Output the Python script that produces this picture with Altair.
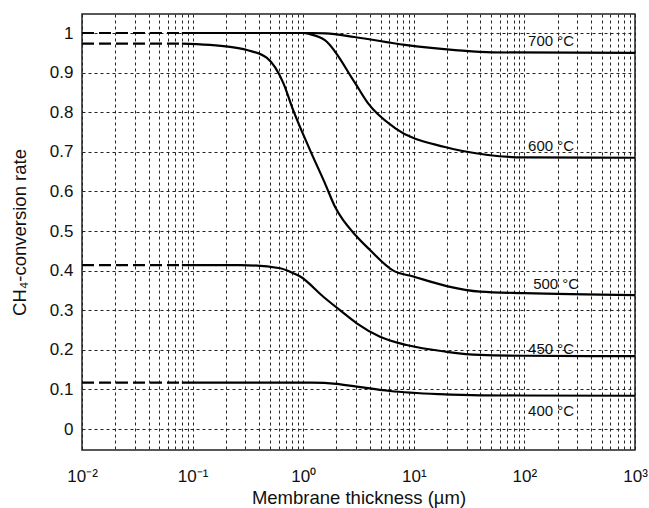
import altair as alt
import pandas as pd

# Membrane thickness (µm) and CH4 conversion for each temperature
x_700 = [0.08, 1.2, 1.6, 2.9, 8.3, 23.6, 51, 1000]
y_700 = [1.0, 1.0, 0.999, 0.99, 0.97, 0.957, 0.951, 0.95]

x_600 = [0.08, 1.0, 1.15, 1.57, 2.94, 3.85, 6.76, 19.1, 46.9, 100, 1000]
y_600 = [1.0, 1.0, 0.997, 0.982, 0.874, 0.823, 0.76, 0.712, 0.692, 0.686, 0.685]

x_500 = [0.08, 0.218, 0.31, 0.47, 0.66, 0.81, 1.15, 1.57, 1.94, 3.05, 4.02, 6.53, 9.9, 19.8, 39.7, 101, 1000]
y_500 = [0.973, 0.965, 0.957, 0.937, 0.874, 0.806, 0.705, 0.621, 0.561, 0.486, 0.452, 0.40, 0.385, 0.361, 0.347, 0.343, 0.338]

x_450 = [0.08, 0.27, 0.62, 0.76, 0.94, 1.52, 2.15, 3.05, 4.95, 8.6, 19.8, 39.7, 100, 1000]
y_450 = [0.414, 0.414, 0.406, 0.397, 0.385, 0.334, 0.30, 0.267, 0.233, 0.212, 0.195, 0.187, 0.185, 0.184]

x_400 = [0.08, 1.2, 2.0, 3.05, 6.1, 17, 40, 1000]
y_400 = [0.117, 0.117, 0.114, 0.107, 0.096, 0.088, 0.085, 0.084]

# Dashed extrapolation towards thin membranes
ext_x = [0.01, 0.08]
temps = ["700 °C", "600 °C", "500 °C", "450 °C", "400 °C"]

# Curve labels
label_text = ["700 °C", "600 °C", "500 °C", "450 °C", "400 °C"]
label_x = [108, 108, 120, 108, 108]
label_y = [0.98, 0.715, 0.366, 0.202, 0.045]

series = {
    "700 °C": (x_700, y_700),
    "600 °C": (x_600, y_600),
    "500 °C": (x_500, y_500),
    "450 °C": (x_450, y_450),
    "400 °C": (x_400, y_400),
}

solid_rows = []
dash_rows = []
for t in temps:
    xs, ys = series[t]
    for i, (a, b) in enumerate(zip(xs, ys)):
        solid_rows.append({"temp": t, "thickness": a, "rate": b, "order": i})
    for i, a in enumerate(ext_x):
        dash_rows.append({"temp": t, "thickness": a, "rate": ys[0], "order": i})

solid = pd.DataFrame(solid_rows)
dashed = pd.DataFrame(dash_rows)
labels = pd.DataFrame({"text": label_text, "thickness": label_x, "rate": label_y})

# log grid positions: every integer multiple inside each decade
grid_x = []
for e in range(-2, 3):
    for k in range(1, 10):
        grid_x.append(round(k * 10 ** e, 6))
grid_x.append(1000)
grid_y = [round(0.1 * i, 1) for i in range(11)]

FONT = "Liberation Sans"

x_scale = alt.Scale(type="log", domain=[0.01, 1000], nice=False)
y_scale = alt.Scale(domain=[-0.053, 1.048], nice=False, zero=False)

sup_expr = (
    "datum.value == 0.01 ? '10⁻²' : datum.value == 0.1 ? '10⁻¹' : "
    "datum.value == 1 ? '10⁰' : datum.value == 10 ? '10¹' : "
    "datum.value == 100 ? '10²' : datum.value == 1000 ? '10³' : ''"
)

x_axis = alt.Axis(
    values=grid_x,
    labelExpr=sup_expr,
    title="Membrane thickness (µm)",
    grid=True,
    gridDash=[3, 3],
    gridColor="#222222",
    gridOpacity=1,
    gridWidth=1,
    ticks=False,
    domain=False,
    labelPadding=18,
    labelFontSize=17,
    labelFont=FONT,
    labelColor="#111111",
    labelFlush=False,
    labelOverlap=False,
    titleFont=FONT,
    titleFontSize=18.5,
    titleFontWeight="normal",
    titleColor="#111111",
    titlePadding=4,
)

y_axis = alt.Axis(
    values=grid_y,
    labelExpr="datum.value == 1 ? '1' : datum.value == 0 ? '0' : format(datum.value, '.1f')",
    title="CH₄-conversion rate",
    grid=True,
    gridDash=[3, 3],
    gridColor="#222222",
    gridOpacity=1,
    gridWidth=1,
    ticks=False,
    domain=False,
    labelPadding=9,
    labelFontSize=17,
    labelFont=FONT,
    labelColor="#111111",
    labelFlush=False,
    titleFont=FONT,
    titleFontSize=18.5,
    titleFontWeight="normal",
    titleColor="#111111",
    titlePadding=20,
)

x_enc = alt.X("thickness:Q", scale=x_scale, axis=x_axis)
y_enc = alt.Y("rate:Q", scale=y_scale, axis=y_axis)

solid_lines = alt.Chart(solid).mark_line(
    color="black", strokeWidth=2.2, clip=True, interpolate="monotone"
).encode(x=x_enc, y=y_enc, detail="temp:N", order="order:Q")

dashed_lines = alt.Chart(dashed).mark_line(
    color="black", strokeWidth=2.2, strokeDash=[12, 5], clip=True
).encode(
    x=alt.X("thickness:Q", scale=x_scale),
    y=alt.Y("rate:Q", scale=y_scale),
    detail="temp:N",
    order="order:Q",
)

text = alt.Chart(labels).mark_text(
    align="left", baseline="middle", font=FONT, fontSize=15, color="#111111"
).encode(
    x=alt.X("thickness:Q", scale=x_scale),
    y=alt.Y("rate:Q", scale=y_scale),
    text="text:N",
)

chart = (
    alt.layer(solid_lines, dashed_lines, text)
    .properties(
        width=553,
        height=436,
        autosize=alt.AutoSizeParams(type="none"),
        padding={"left": 82, "top": 14, "right": 14, "bottom": 58},
        background="white",
    )
    .configure_view(stroke="#222222", strokeWidth=1.5)
)

chart.save("out.html", embed_options={"renderer": "svg", "actions": False})
